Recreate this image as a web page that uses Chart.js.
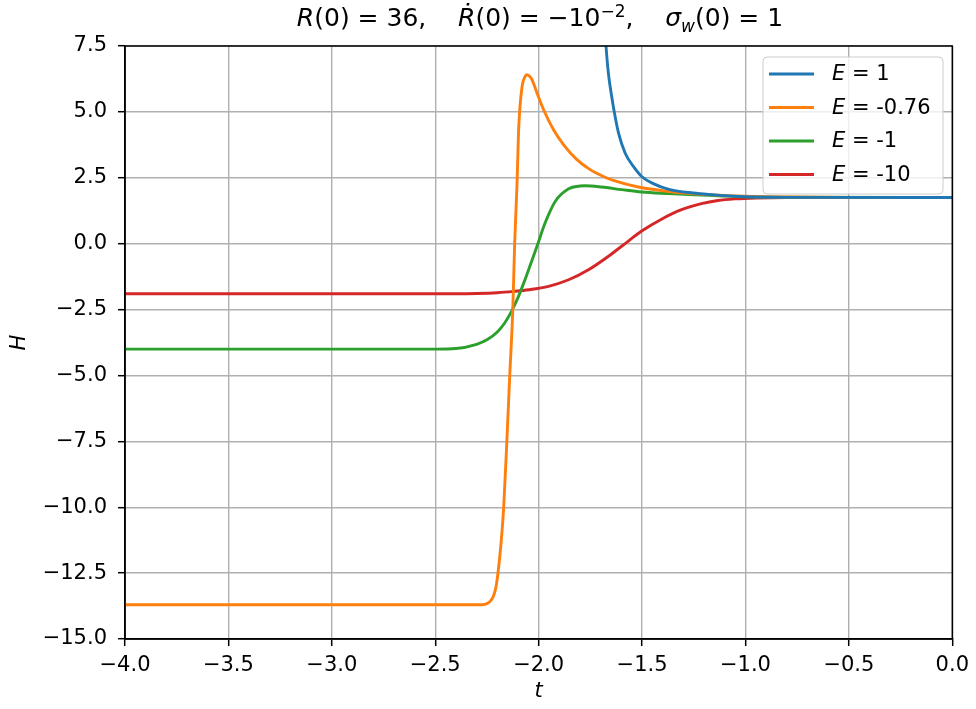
<!DOCTYPE html>
<html>
<head>
<meta charset="utf-8">
<script src="https://cdn.jsdelivr.net/npm/chart.js@4"></script>
<style>
  body { margin: 0; background: #fff; }
  #wrap { position: relative; width: 976px; height: 709px; }
  #title {
    position: absolute; left: 125px; width: 830px; top: 2px;
    text-align: center; font: 25px "DejaVu Sans"; line-height: 32px; color: #000;
    white-space: pre;
  }
  #title sup, #title sub { font-size: 17px; line-height: 0; }
</style>
</head>
<body>
<div id="wrap">
  <canvas id="chartH"></canvas>
  <div id="title"><i>R</i>(0) = 36,    <i>R&#775;</i>(0) = −10<sup>−2</sup>,    <i>σ<sub>w</sub></i>(0) = 1</div>
</div>
<script>
const legendValues = ['1', '-0.76', '-1', '-10'];
const colors = ['#1f77b4', '#ff7f0e', '#2ca02c', '#d62728'];

const tBlue = [-1.683, -1.674, -1.663, -1.647, -1.635, -1.614, -1.582, -1.542, -1.502, -1.446, -1.365, -1.253, -1.166, -1.05, -0.95, -0.8, 0];
const hBlue = [8.6, 7.47, 6.48, 5.59, 5.02, 4.2, 3.44, 2.93, 2.55, 2.28, 2.05, 1.92, 1.86, 1.8, 1.77, 1.755, 1.75];

const tOrange = [-4, -2.5, -2.275, -2.241, -2.207, -2.193, -2.178, -2.169, -2.154, -2.14, -2.125, -2.116, -2.105, -2.096, -2.08, -2.068, -2.056, -2.044, -2.032, -2.008, -1.976, -1.928, -1.88, -1.815, -1.751, -1.687, -1.639, -1.518, -1.359, -1.2, -1.0, -0.8, -0.5, 0];
const hOrange = [-13.7, -13.7, -13.7, -13.62, -13.05, -12.25, -11.0, -10.0, -7.55, -5.04, -2.5, 0, 2.17, 4.45, 5.97, 6.3, 6.41, 6.35, 6.22, 5.72, 5.08, 4.32, 3.76, 3.19, 2.81, 2.55, 2.4, 2.15, 1.97, 1.87, 1.8, 1.77, 1.75, 1.75];

const tGreen = [-4, -2.5, -2.4, -2.3, -2.25, -2.2, -2.165, -2.13, -2.1, -2.07, -2.04, -2.008, -1.968, -1.92, -1.855, -1.8, -1.775, -1.695, -1.598, -1.502, -1.373, -1.245, -1.133, -1.0, -0.8, 0];
const hGreen = [-4.0, -4.0, -3.98, -3.82, -3.65, -3.35, -3.02, -2.55, -2.05, -1.45, -0.8, -0.1, 0.8, 1.6, 2.08, 2.19, 2.2, 2.15, 2.05, 1.96, 1.9, 1.85, 1.82, 1.78, 1.76, 1.75];

const tRed = [-4, -2.4, -2.3, -2.2, -2.12, -2.048, -1.952, -1.855, -1.759, -1.663, -1.566, -1.502, -1.406, -1.309, -1.213, -1.133, -1.05, -0.95, -0.8, 0];
const hRed = [-1.9, -1.9, -1.89, -1.86, -1.81, -1.75, -1.62, -1.37, -0.99, -0.48, 0.1, 0.48, 0.93, 1.29, 1.52, 1.64, 1.7, 1.735, 1.75, 1.75];

const series = [[tBlue, hBlue], [tOrange, hOrange], [tGreen, hGreen], [tRed, hRed]];

const fmt = v => v.toFixed(1).replace('-', '\u2212');
const tickFont = { family: 'DejaVu Sans', size: 21 };

// matplotlib-style frame + legend inside the axes
const framePlugin = {
  id: 'frame',
  afterDatasetsDraw(chart) {
    const { ctx, chartArea: a } = chart;
    ctx.save();
    ctx.strokeStyle = '#000';
    ctx.lineWidth = 1.5;
    ctx.strokeRect(a.left, a.top, a.right - a.left, a.bottom - a.top);

    const bx = 763, by = 57, bw = 180, bh = 137;
    ctx.beginPath();
    ctx.roundRect(bx, by, bw, bh, 4);
    ctx.fillStyle = 'rgba(255,255,255,0.8)';
    ctx.fill();
    ctx.strokeStyle = '#cccccc';
    ctx.lineWidth = 1;
    ctx.stroke();

    ctx.textBaseline = 'middle';
    chart.data.datasets.forEach((ds, i) => {
      const y = 74 + i * 33.5;
      ctx.strokeStyle = ds.borderColor;
      ctx.lineWidth = 2.9;
      ctx.beginPath();
      ctx.moveTo(769, y);
      ctx.lineTo(814, y);
      ctx.stroke();
      ctx.fillStyle = '#000';
      ctx.font = 'italic 21px "DejaVu Sans"';
      ctx.fillText('E', 832, y + 1);
      const w = ctx.measureText('E').width;
      ctx.font = '21px "DejaVu Sans"';
      ctx.fillText(' = ' + legendValues[i], 832 + w, y + 1);
    });
    ctx.restore();
  }
};

const ctx = document.getElementById('chartH').getContext('2d');
new Chart(ctx, {
  type: 'scatter',
  data: {
    datasets: series.map((s, i) => ({
      label: 'E = ' + legendValues[i],
      data: s[0].map((t, j) => ({ x: t, y: s[1][j] })),
      showLine: true,
      borderColor: colors[i],
      backgroundColor: colors[i],
      borderWidth: 2.9,
      pointRadius: 0,
      cubicInterpolationMode: 'monotone'
    }))
  },
  options: {
    responsive: true,
    maintainAspectRatio: false,
    animation: false,
    layout: { padding: { left: 0, right: 21, top: 46, bottom: 0 } },
    plugins: { legend: { display: false }, tooltip: { enabled: false } },
    scales: {
      x: {
        type: 'linear', min: -4, max: 0,
        afterFit: s => { s.height = 70; },
        ticks: { stepSize: 0.5, callback: fmt, color: '#000', font: tickFont, padding: 7, maxRotation: 0 },
        grid: { color: '#b0b0b0', lineWidth: 1.4, tickColor: '#000', tickLength: 7, tickWidth: 1.5 },
        border: { color: '#000', width: 1.5 },
        title: { display: true, text: 't', color: '#000', font: { family: 'DejaVu Sans', size: 21, style: 'italic' }, padding: { top: 0, bottom: 5 } }
      },
      y: {
        min: -15, max: 7.5,
        afterFit: s => { s.width = 125; },
        ticks: { stepSize: 2.5, callback: fmt, color: '#000', font: tickFont, padding: 11 },
        grid: { color: '#b0b0b0', lineWidth: 1.4, tickColor: '#000', tickLength: 7, tickWidth: 1.5 },
        border: { color: '#000', width: 1.5 },
        title: { display: true, text: 'H', color: '#000', font: { family: 'DejaVu Sans', size: 21, style: 'italic' }, padding: { top: 7, bottom: 0 } }
      }
    }
  },
  plugins: [framePlugin]
});
</script>
</body>
</html>
